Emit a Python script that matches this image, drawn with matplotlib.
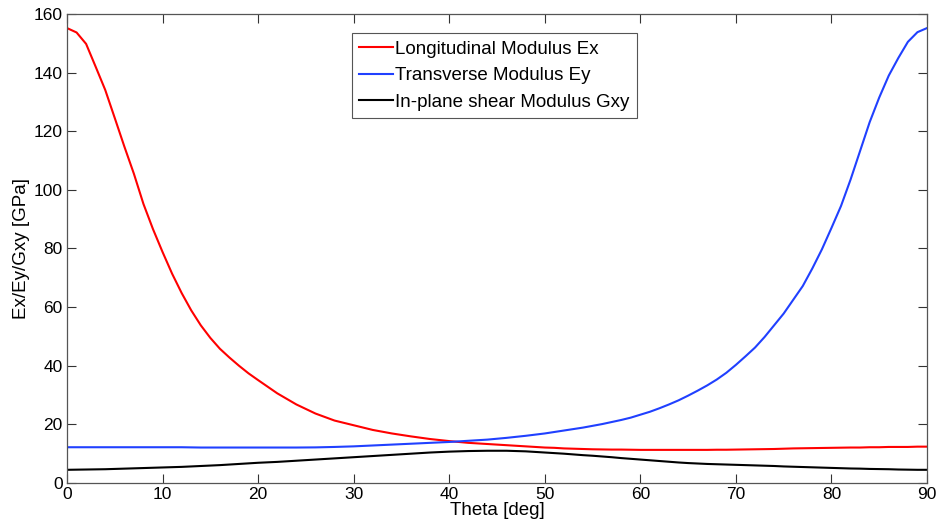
import matplotlib
matplotlib.use("Agg")
import matplotlib.pyplot as plt

theta = [0, 1, 2, 3, 4, 5, 6, 7, 8, 9, 10, 11, 12, 13, 14, 15, 16, 17, 18, 19, 20,
         22, 24, 26, 28, 30, 32, 34, 36, 38, 40, 42, 44, 46, 48,
         49, 50, 51, 52, 53, 54, 55, 56, 57, 58, 59, 60, 61, 62, 63, 64, 65, 66,
         67, 68, 69, 70,
         71, 72, 73, 74, 75, 76, 77, 78, 79, 80, 81, 82, 83, 84, 85, 86, 87, 88,
         89, 90]

Ex = [155.2, 153.7, 149.8, 142.0, 134.1, 124.5, 114.8, 105.5, 95.2, 86.6, 78.8,
      71.4, 64.8, 58.9, 53.8, 49.5, 45.8, 42.8, 40.0, 37.4, 35.1,
      30.6, 26.8, 23.7, 21.3, 19.7, 18.1, 16.9, 15.9, 15.0, 14.3, 13.7, 13.3,
      12.9, 12.5,
      12.3, 12.1, 12.0, 11.8, 11.7, 11.6, 11.5, 11.45, 11.4, 11.4, 11.35, 11.3,
      11.3, 11.3, 11.3, 11.3, 11.3, 11.3, 11.3, 11.35, 11.35, 11.4,
      11.45, 11.5, 11.55, 11.6, 11.7, 11.8, 11.85, 11.9, 11.95, 12.0, 12.05,
      12.1, 12.1, 12.2, 12.2, 12.3, 12.3, 12.3, 12.4, 12.4]

Ey = [12.2, 12.2, 12.2, 12.2, 12.2, 12.2, 12.2, 12.2, 12.2, 12.2, 12.2, 12.2,
      12.2, 12.15, 12.1, 12.1, 12.1, 12.1, 12.1, 12.1, 12.1,
      12.1, 12.1, 12.15, 12.3, 12.5, 12.8, 13.1, 13.4, 13.7, 14.0, 14.4, 14.8,
      15.4, 16.1,
      16.5, 16.9, 17.4, 17.9, 18.4, 18.9, 19.5, 20.1, 20.8, 21.5, 22.3, 23.3,
      24.3, 25.5, 26.8, 28.2, 29.8, 31.5, 33.3, 35.3, 37.6, 40.3,
      43.2, 46.2, 49.8, 53.8, 57.8, 62.5, 67.2, 73.2, 79.7, 87.0, 94.5, 103.5,
      113.3, 123.1, 131.5, 139.0, 145.0, 150.5, 153.8, 155.2]

Gxy = [4.5, 4.55, 4.6, 4.65, 4.7, 4.8, 4.9, 5.0, 5.1, 5.2, 5.3, 5.4, 5.5, 5.65,
       5.8, 5.95, 6.1, 6.3, 6.5, 6.7, 6.9,
       7.2, 7.6, 8.0, 8.4, 8.8, 9.2, 9.6, 10.0, 10.4, 10.7, 10.9, 11.0, 11.0,
       10.8,
       10.6, 10.4, 10.2, 10.0, 9.75, 9.5, 9.3, 9.05, 8.8, 8.5, 8.25, 8.0, 7.75,
       7.5, 7.25, 7.0, 6.8, 6.65, 6.5, 6.4, 6.3, 6.2,
       6.1, 6.0, 5.9, 5.8, 5.65, 5.55, 5.45, 5.35, 5.25, 5.15, 5.05, 4.95, 4.9,
       4.8, 4.75, 4.7, 4.6, 4.55, 4.5, 4.5]

labels = ["Longitudinal Modulus Ex", "Transverse Modulus Ey",
          "In-plane shear Modulus Gxy"]
colors = ["#ff0000", "#2040ff", "#000000"]

plt.rcParams['font.family'] = ['Liberation Sans', 'DejaVu Sans']

fig = plt.figure(figsize=(9.37, 5.30), dpi=100)
ax = fig.add_axes([67 / 937, 47 / 530, 860 / 937, 469 / 530])

for y, lab, c in zip([Ex, Ey, Gxy], labels, colors):
    ax.plot(theta, y, color=c, lw=1.5, label=lab)

ax.set_xlim(0, 90)
ax.set_ylim(0, 160)
ax.set_xticks(range(0, 91, 10))
ax.set_yticks(range(0, 161, 20))
ax.tick_params(direction='in', length=6.5, width=0.8, top=True, right=True,
               labelsize=12.5, colors='#333333', labelcolor='black', pad=3)
for s in ax.spines.values():
    s.set_color('#555555')
    s.set_linewidth(0.9)

ax.set_xlabel("Theta [deg]", fontsize=13.5, labelpad=0)
ax.set_ylabel("Ex/Ey/Gxy [GPa]", fontsize=13.5, labelpad=3)

leg = ax.legend(loc='upper center', bbox_to_anchor=((494.5 - 67) / 860, (483 - 33) / 469),
                borderaxespad=0, fancybox=False, framealpha=1, fontsize=13.5,
                handlelength=1.8, handletextpad=0.1, borderpad=0.4, labelspacing=0.5)
leg.get_frame().set_edgecolor('#555555')
leg.get_frame().set_linewidth(0.8)

fig.savefig("out.png", dpi=100)
